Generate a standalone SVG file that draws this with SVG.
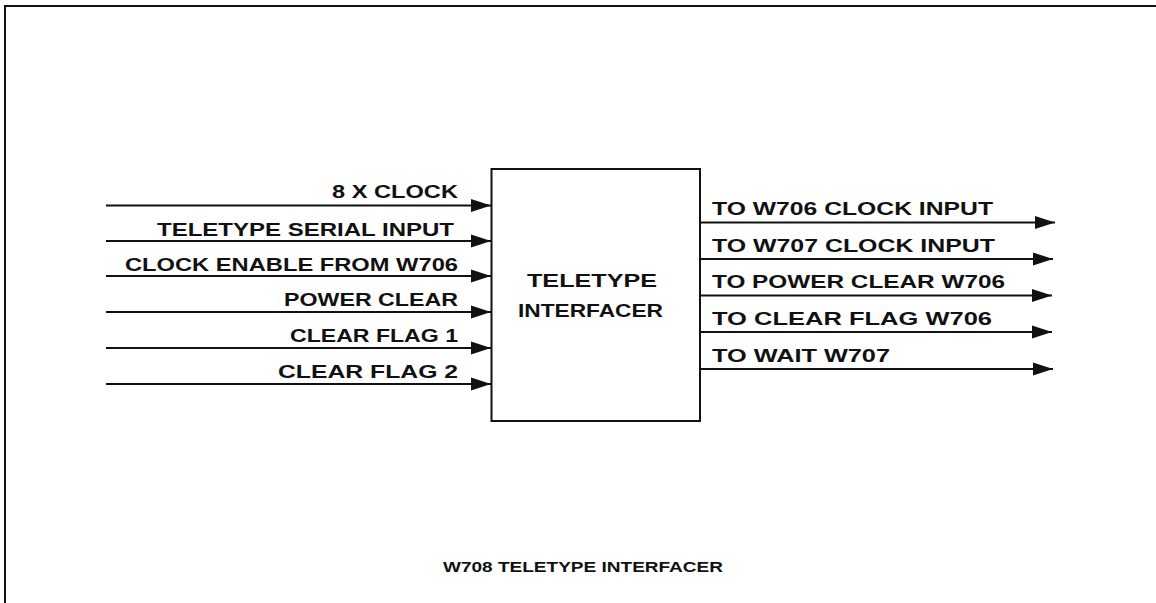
<svg xmlns="http://www.w3.org/2000/svg" width="1156" height="603" viewBox="0 0 1156 603">
<style>
.lbl{font-family:"Liberation Sans",Arial,sans-serif;font-weight:bold;font-size:18.5px;fill:#111}
.ttl{font-family:"Liberation Sans",Arial,sans-serif;font-weight:bold;font-size:14px;fill:#111}
.ln{stroke:#111;stroke-width:2.2;fill:none}
.frame{stroke:#111;stroke-width:2;fill:none}
</style>
<defs>
<marker id="ah" markerUnits="userSpaceOnUse" markerWidth="20" markerHeight="14" refX="20" refY="7" orient="auto">
<path d="M0,0.5 L20,7 L0,13.5 z" fill="#111"/>
</marker>
</defs>
<rect width="1156" height="603" fill="#fff"/>
<path class="frame" d="M5,603 L5,6 L1156,6"/>
<g id="box">
<rect x="491.5" y="169" width="208.5" height="252" fill="#fff" stroke="#111" stroke-width="2"/>
<text class="lbl" x="527" y="287" textLength="130" lengthAdjust="spacingAndGlyphs">TELETYPE</text>
<text class="lbl" x="518" y="317" textLength="145" lengthAdjust="spacingAndGlyphs">INTERFACER</text>
</g>
<g id="connectors">
<line class="ln" x1="106" y1="205.5" x2="491" y2="205.5" marker-end="url(#ah)"/>
<line class="ln" x1="106" y1="241" x2="491" y2="241" marker-end="url(#ah)"/>
<line class="ln" x1="106" y1="276" x2="491" y2="276" marker-end="url(#ah)"/>
<line class="ln" x1="106" y1="312" x2="491" y2="312" marker-end="url(#ah)"/>
<line class="ln" x1="106" y1="348" x2="491" y2="348" marker-end="url(#ah)"/>
<line class="ln" x1="106" y1="384" x2="491" y2="384" marker-end="url(#ah)"/>
<line class="ln" x1="700" y1="222.5" x2="1055" y2="222.5" marker-end="url(#ah)"/>
<line class="ln" x1="700" y1="259" x2="1053" y2="259" marker-end="url(#ah)"/>
<line class="ln" x1="700" y1="295.5" x2="1052" y2="295.5" marker-end="url(#ah)"/>
<line class="ln" x1="700" y1="332" x2="1052" y2="332" marker-end="url(#ah)"/>
<line class="ln" x1="700" y1="369" x2="1053" y2="369" marker-end="url(#ah)"/>
</g>
<g id="input-labels">
<text class="lbl" x="332" y="198" textLength="126" lengthAdjust="spacingAndGlyphs">8 X CLOCK</text>
<text class="lbl" x="157" y="236" textLength="297" lengthAdjust="spacingAndGlyphs">TELETYPE SERIAL INPUT</text>
<text class="lbl" x="125" y="270.5" textLength="333" lengthAdjust="spacingAndGlyphs">CLOCK ENABLE FROM W706</text>
<text class="lbl" x="284" y="306" textLength="174" lengthAdjust="spacingAndGlyphs">POWER CLEAR</text>
<text class="lbl" x="290" y="342" textLength="168" lengthAdjust="spacingAndGlyphs">CLEAR FLAG 1</text>
<text class="lbl" x="278" y="378" textLength="180" lengthAdjust="spacingAndGlyphs">CLEAR FLAG 2</text>
</g>
<g id="output-labels">
<text class="lbl" x="712" y="215" textLength="281" lengthAdjust="spacingAndGlyphs">TO W706 CLOCK INPUT</text>
<text class="lbl" x="712" y="252" textLength="283" lengthAdjust="spacingAndGlyphs">TO W707 CLOCK INPUT</text>
<text class="lbl" x="712" y="288" textLength="293" lengthAdjust="spacingAndGlyphs">TO POWER CLEAR W706</text>
<text class="lbl" x="712" y="325" textLength="280" lengthAdjust="spacingAndGlyphs">TO CLEAR FLAG W706</text>
<text class="lbl" x="712" y="362" textLength="178" lengthAdjust="spacingAndGlyphs">TO WAIT W707</text>
</g>
<g id="title">
<text class="ttl" x="443" y="572" textLength="280" lengthAdjust="spacingAndGlyphs">W708 TELETYPE INTERFACER</text>
</g>
</svg>
